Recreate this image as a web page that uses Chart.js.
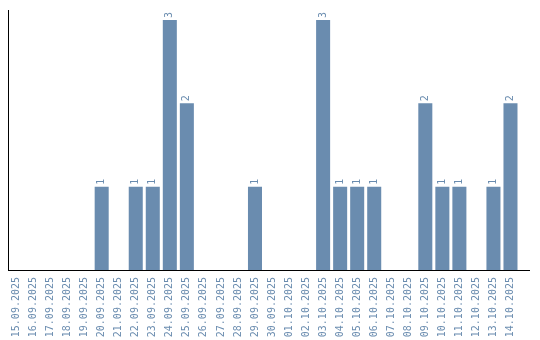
<!DOCTYPE html>
<html>
<head>
<meta charset="utf-8">
<script src="https://cdn.jsdelivr.net/npm/chart.js@4.4.1/dist/chart.umd.min.js"></script>
<style>
  html, body { margin: 0; padding: 0; background: #fff; }
  #wrap { width: 540px; height: 340px; }
</style>
</head>
<body>
<div id="wrap"><canvas id="grafic"></canvas></div>
<script>
const days = [
  "15.09.2025", "16.09.2025", "17.09.2025", "18.09.2025", "19.09.2025",
  "20.09.2025", "21.09.2025", "22.09.2025", "23.09.2025", "24.09.2025",
  "25.09.2025", "26.09.2025", "27.09.2025", "28.09.2025", "29.09.2025",
  "30.09.2025", "01.10.2025", "02.10.2025", "03.10.2025", "04.10.2025",
  "05.10.2025", "06.10.2025", "07.10.2025", "08.10.2025", "09.10.2025",
  "10.10.2025", "11.10.2025", "12.10.2025", "13.10.2025", "14.10.2025"
];
const counts = [
  0, 0, 0, 0, 0,
  1, 0, 1, 1, 3,
  2, 0, 0, 0, 1,
  0, 0, 0, 3, 1,
  1, 1, 0, 0, 2,
  1, 1, 0, 1, 2
];

const barColor = "#6a8caf";
const monoFont = "'DejaVu Sans Mono', monospace";

// value above each bar (rotated like the ticks) + x axis line that runs past the last bar
const valueLabels = {
  id: "valueLabels",
  afterDatasetsDraw(chart) {
    const ctx = chart.ctx;
    const area = chart.chartArea;
    const meta = chart.getDatasetMeta(0);
    ctx.save();
    ctx.strokeStyle = "#000";
    ctx.lineWidth = 1;
    ctx.beginPath();
    ctx.moveTo(area.left, area.bottom + 0.5);
    ctx.lineTo(area.right + 11, area.bottom + 0.5);
    ctx.stroke();

    ctx.fillStyle = barColor;
    ctx.font = "10px " + monoFont;
    ctx.textAlign = "left";
    ctx.textBaseline = "middle";
    meta.data.forEach((bar, i) => {
      if (!counts[i]) return;
      ctx.save();
      ctx.translate(bar.x, bar.y - 2);
      ctx.rotate(-Math.PI / 2);
      ctx.fillText(String(counts[i]), 0, 0);
      ctx.restore();
    });
    ctx.restore();
  }
};

new Chart(document.getElementById("grafic"), {
  type: "bar",
  data: {
    labels: days,
    datasets: [{
      data: counts,
      backgroundColor: barColor,
      borderWidth: 0,
      categoryPercentage: 0.8235,
      barPercentage: 1
    }]
  },
  options: {
    responsive: true,
    maintainAspectRatio: false,
    animation: false,
    layout: { padding: { top: 10, right: 21, left: 8, bottom: 0 } },
    plugins: { legend: { display: false }, tooltip: { enabled: false } },
    scales: {
      x: {
        grid: { display: false, drawTicks: false },
        border: { display: false },
        ticks: {
          color: barColor,
          font: { family: monoFont, size: 10 },
          minRotation: 90,
          maxRotation: 90,
          autoSkip: false,
          padding: 7
        },
        afterFit(scale) { scale.height = 70; }
      },
      y: {
        min: 0,
        max: 3.12,
        grid: { display: false, drawTicks: false },
        border: { display: true, color: "#000", width: 1 },
        ticks: { display: false }
      }
    }
  },
  plugins: [valueLabels]
});
</script>
</body>
</html>
